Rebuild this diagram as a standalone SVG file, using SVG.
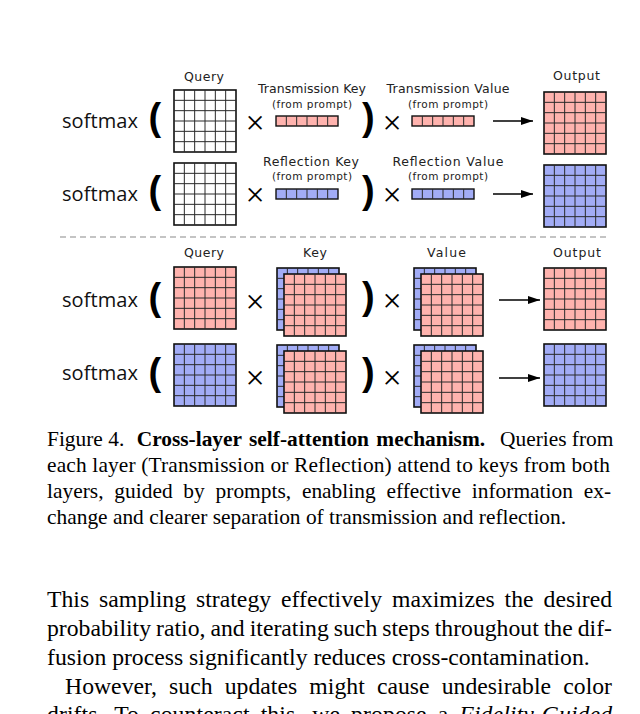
<svg xmlns="http://www.w3.org/2000/svg" xmlns:xlink="http://www.w3.org/1999/xlink" width="640" height="714" viewBox="0 0 640 714">
<style>
.sm{font-family:"Open Sans","Noto Sans",sans-serif;font-size:20px;fill:#111}
.lb{font-family:"DejaVu Sans","Liberation Sans",sans-serif;font-size:12.5px;fill:#222;text-anchor:middle}
.fp{font-family:"DejaVu Sans","Liberation Sans",sans-serif;font-size:10.5px;fill:#222;text-anchor:middle}
.br{font-family:"Liberation Sans",Arial,sans-serif;font-size:38px;font-weight:bold;fill:#000}
.x{font-family:"Liberation Serif","Times New Roman",serif;font-size:34px;fill:#000;text-anchor:middle}
.cap{font-family:"Liberation Serif","Times New Roman",serif;font-size:21.4px;fill:#000}
.body{font-family:"Liberation Serif","Times New Roman",serif;font-size:23.7px;fill:#000}
.pk{fill:#ffb3ae}
.bl{fill:#a2acf6}
.wh{fill:#fff}
</style>
<defs>
<g id="grid">
<rect x="0" y="0" width="62" height="62" stroke="#111" stroke-width="1.6"/>
<path d="M10.33,0V62M20.67,0V62M31,0V62M41.33,0V62M51.67,0V62M0,10.33H62M0,20.67H62M0,31H62M0,41.33H62M0,51.67H62" fill="none" stroke="#2a2a2a" stroke-width="1"/>
</g>
<g id="bar">
<rect x="0" y="0" width="62" height="10" stroke="#111" stroke-width="1.4"/>
<path d="M10.33,0V10M20.67,0V10M31,0V10M41.33,0V10M51.67,0V10" fill="none" stroke="#2a2a2a" stroke-width="1"/>
</g>
<marker id="ah" markerWidth="12" markerHeight="8" refX="12" refY="4" orient="auto" markerUnits="userSpaceOnUse">
<path d="M0,0L12,4L0,8z" fill="#000"/>
</marker>
</defs>

<!-- top section: prompt-based cross attention -->
<g id="top-labels">
<text class="lb" x="204" y="81" textLength="40">Query</text>
<text class="lb" x="312" y="93" textLength="108">Transmission Key</text>
<text class="fp" x="312" y="107.5" textLength="80">(from prompt)</text>
<text class="lb" x="448" y="93" textLength="123">Transmission Value</text>
<text class="fp" x="448" y="107.5" textLength="80">(from prompt)</text>
<text class="lb" x="576.5" y="80" textLength="47">Output</text>
<text class="lb" x="311" y="165.5" textLength="96">Reflection Key</text>
<text class="fp" x="312" y="180" textLength="80">(from prompt)</text>
<text class="lb" x="448" y="166" textLength="111">Reflection Value</text>
<text class="fp" x="448" y="180" textLength="80">(from prompt)</text>
</g>

<g id="row1">
<g id="r1-softmax"><text class="sm" x="62" y="128" textLength="76">softmax</text></g>
<g id="r1-open"><text class="br" x="148.5" y="130">(</text></g>
<g id="r1-query"><use href="#grid" x="174" y="90" class="wh"/></g>
<g id="r1-times1"><text class="x" x="255" y="134">×</text></g>
<g id="r1-key"><use href="#bar" x="276" y="116" class="pk"/></g>
<g id="r1-close"><text class="br" x="362" y="130">)</text></g>
<g id="r1-times2"><text class="x" x="392" y="133.5">×</text></g>
<g id="r1-value"><use href="#bar" x="412" y="116" class="pk"/></g>
<g id="r1-output"><use href="#grid" x="544" y="92" class="pk"/></g>
</g>

<g id="row2">
<g id="r2-softmax"><text class="sm" x="62" y="201" textLength="76">softmax</text></g>
<g id="r2-open"><text class="br" x="148.5" y="203">(</text></g>
<g id="r2-query"><use href="#grid" x="174" y="163" class="wh"/></g>
<g id="r2-times1"><text class="x" x="255" y="206">×</text></g>
<g id="r2-key"><use href="#bar" x="276" y="189" class="bl"/></g>
<g id="r2-close"><text class="br" x="362" y="203">)</text></g>
<g id="r2-times2"><text class="x" x="392" y="206">×</text></g>
<g id="r2-value"><use href="#bar" x="412" y="189" class="bl"/></g>
<g id="r2-output"><use href="#grid" x="544" y="165" class="bl"/></g>
</g>

<g id="separator">
<line x1="60" y1="237" x2="606" y2="237" stroke="#8a8a8a" stroke-width="1.2" stroke-dasharray="6,4"/>
</g>

<!-- bottom section: cross-layer self attention -->
<g id="bottom-labels">
<text class="lb" x="204" y="256.5" textLength="40">Query</text>
<text class="lb" x="315" y="256.5" textLength="24">Key</text>
<text class="lb" x="446.5" y="256.5" textLength="39">Value</text>
<text class="lb" x="577" y="256.5" textLength="48">Output</text>
</g>

<g id="row3">
<g id="r3-softmax"><text class="sm" x="62" y="307" textLength="76">softmax</text></g>
<g id="r3-open"><text class="br" x="148.5" y="310">(</text></g>
<g id="r3-query"><use href="#grid" x="174" y="267" class="pk"/></g>
<g id="r3-times1"><text class="x" x="255" y="313">×</text></g>
<g id="r3-key"><use href="#grid" x="277" y="268" class="bl"/><use href="#grid" x="284" y="274" class="pk"/></g>
<g id="r3-close"><text class="br" x="362" y="309">)</text></g>
<g id="r3-times2"><text class="x" x="392" y="312">×</text></g>
<g id="r3-value"><use href="#grid" x="414" y="268" class="bl"/><use href="#grid" x="421" y="274" class="pk"/></g>
<g id="r3-output"><use href="#grid" x="544" y="268" class="pk"/></g>
</g>

<g id="row4">
<g id="r4-softmax"><text class="sm" x="62" y="380" textLength="76">softmax</text></g>
<g id="r4-open"><text class="br" x="148.5" y="385">(</text></g>
<g id="r4-query"><use href="#grid" x="174" y="344" class="bl"/></g>
<g id="r4-times1"><text class="x" x="255" y="389">×</text></g>
<g id="r4-key"><use href="#grid" x="277" y="345" class="bl"/><use href="#grid" x="284" y="351" class="pk"/></g>
<g id="r4-close"><text class="br" x="362" y="385">)</text></g>
<g id="r4-times2"><text class="x" x="392" y="389">×</text></g>
<g id="r4-value"><use href="#grid" x="414" y="345" class="bl"/><use href="#grid" x="421" y="351" class="pk"/></g>
<g id="r4-output"><use href="#grid" x="544" y="344" class="bl"/></g>
</g>

<g id="connectors" stroke="#000" stroke-width="1.7" fill="none">
<line x1="493" y1="121" x2="533" y2="121" marker-end="url(#ah)"/>
<line x1="493" y1="194" x2="533" y2="194" marker-end="url(#ah)"/>
<line x1="499" y1="300" x2="540" y2="300" marker-end="url(#ah)"/>
<line x1="499" y1="378" x2="540" y2="378" marker-end="url(#ah)"/>
</g>

<g id="caption">
<text class="cap" x="47" y="445.5">Figure 4.<tspan x="136.7" font-weight="bold" word-spacing="2">Cross-layer self-attention mechanism.</tspan><tspan x="500">Queries from</tspan></text>
<text class="cap" x="47" y="471.8" textLength="563" lengthAdjust="spacing">each layer (Transmission or Reflection) attend to keys from both</text>
<text class="cap" x="47" y="498" word-spacing="5.4" textLength="564" lengthAdjust="spacing">layers, guided by prompts, enabling effective information ex-</text>
<text class="cap" x="47" y="524.3">change and clearer separation of transmission and reflection.</text>
</g>

<g id="body">
<text class="body" x="47" y="606.5" word-spacing="4" textLength="565" lengthAdjust="spacing">This sampling strategy effectively maximizes the desired</text>
<text class="body" x="47" y="635.5" word-spacing="-0.9" textLength="565" lengthAdjust="spacing">probability ratio, and iterating such steps throughout the dif-</text>
<text class="body" x="47" y="664.5">fusion process significantly reduces cross-contamination.</text>
<text class="body" x="65" y="693.5" word-spacing="6.2" textLength="547" lengthAdjust="spacing">However, such updates might cause undesirable color</text>
<text class="body" x="47" y="722" word-spacing="5" textLength="565" lengthAdjust="spacing">drifts.  To counteract this, we propose a <tspan font-style="italic">Fidelity-Guided</tspan></text>
</g>
</svg>
